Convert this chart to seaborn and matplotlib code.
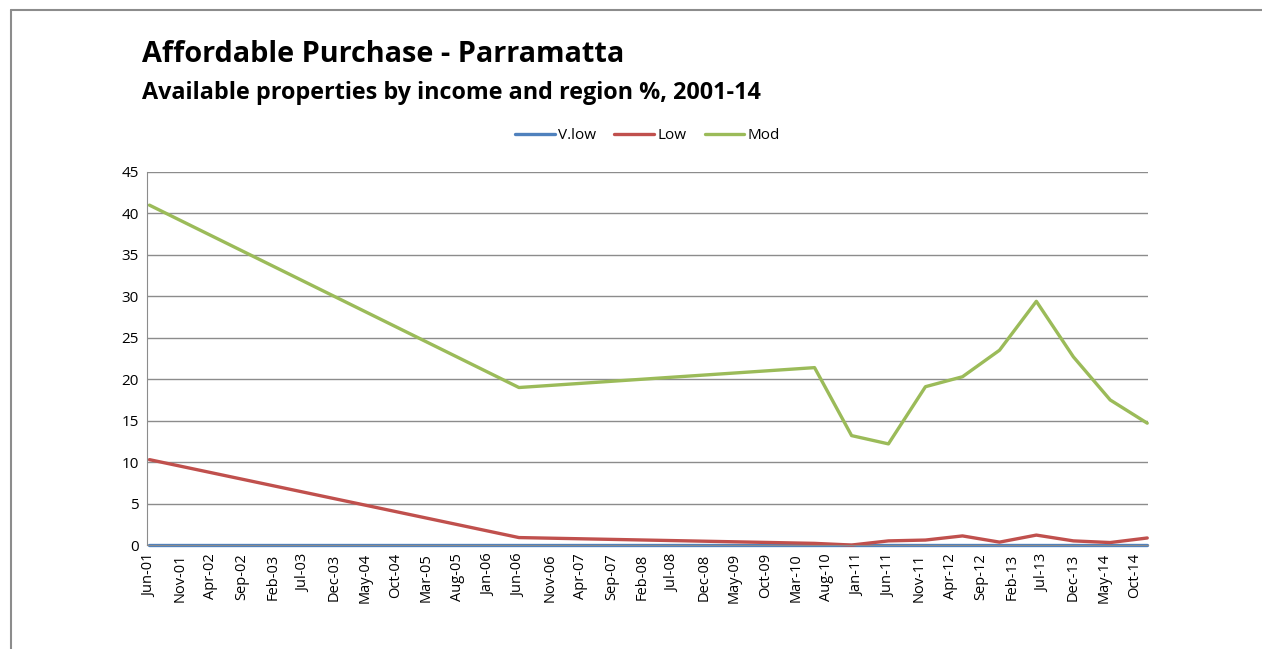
import pandas as pd
import matplotlib.pyplot as plt
import matplotlib.dates as mdates
import seaborn as sns

dates = ['2001-06-01', '2006-06-01', '2010-06-01', '2010-12-01', '2011-06-01', '2011-12-01',
         '2012-06-01', '2012-12-01', '2013-06-01', '2013-12-01', '2014-06-01', '2014-12-01']
vlow = [0, 0, 0, 0, 0, 0, 0, 0, 0, 0, 0, 0]
low = [10.3, 0.9, 0.2, 0.0, 0.5, 0.6, 1.1, 0.35, 1.2, 0.5, 0.3, 0.85]
mod = [41.0, 19.0, 21.4, 13.2, 12.2, 19.1, 20.3, 23.5, 29.4, 22.7, 17.5, 14.7]

df = pd.DataFrame({'Date': pd.to_datetime(dates), 'V.low': vlow, 'Low': low, 'Mod': mod})
long = df.melt(id_vars='Date', var_name='Series', value_name='Value')

sns.set_style('white')
plt.rcParams['font.family'] = ['Open Sans', 'DejaVu Sans']
plt.rcParams['text.color'] = 'black'
plt.rcParams['xtick.color'] = 'black'
plt.rcParams['ytick.color'] = 'black'

fig = plt.figure(figsize=(12.62, 6.49), dpi=100)
ax = fig.add_axes([0.1165, 0.1602, 0.7932, 0.5748])

pal = {'V.low': '#4F81BD', 'Low': '#C0504D', 'Mod': '#9BBB59'}
sns.lineplot(data=long, x='Date', y='Value', hue='Series', palette=pal, linewidth=2.4, ax=ax)
for ln in ax.lines:
    ln.set_clip_on(False)

ax.set_ylim(0, 45)
ax.set_yticks(range(0, 46, 5))
ax.set_xlim(pd.Timestamp('2001-05-20'), pd.Timestamp('2014-12-05'))
ticks = pd.date_range('2001-06-01', '2014-10-01', freq='5MS')
ax.set_xticks(ticks)
ax.xaxis.set_major_formatter(mdates.DateFormatter('%b-%y'))
plt.setp(ax.get_xticklabels(), rotation=90, fontsize=10.5)
plt.setp(ax.get_yticklabels(), fontsize=11)
ax.tick_params(length=0, pad=6)
ax.set_xlabel('')
ax.set_ylabel('')

ax.yaxis.grid(True, color='#8c8c8c', linewidth=1)
ax.set_axisbelow(True)
for s in ['top', 'right']:
    ax.spines[s].set_visible(False)
ax.spines['left'].set_color('#8c8c8c')
ax.spines['bottom'].set_color('#8c8c8c')

ax.legend(loc='lower center', bbox_to_anchor=(0.5, 1.04), ncol=3, frameon=False,
          fontsize=11, handlelength=2.6, columnspacing=1.2, handletextpad=0.2)

fig.text(0.1125, 0.916, 'Affordable Purchase - Parramatta', fontsize=20.8, fontweight='bold', va='center')
fig.text(0.1125, 0.857, 'Available properties by income and region %, 2001-14', fontsize=16.8,
         fontweight='bold', va='center')

# outer chart frame (top and left only visible)
fig.add_artist(plt.Line2D([0.0087, 1.0], [0.985, 0.985], color='#8c8c8c', linewidth=1.5, transform=fig.transFigure))
fig.add_artist(plt.Line2D([0.0087, 0.0087], [0.0, 0.985], color='#8c8c8c', linewidth=1.5, transform=fig.transFigure))

fig.savefig('out.png', dpi=100)
